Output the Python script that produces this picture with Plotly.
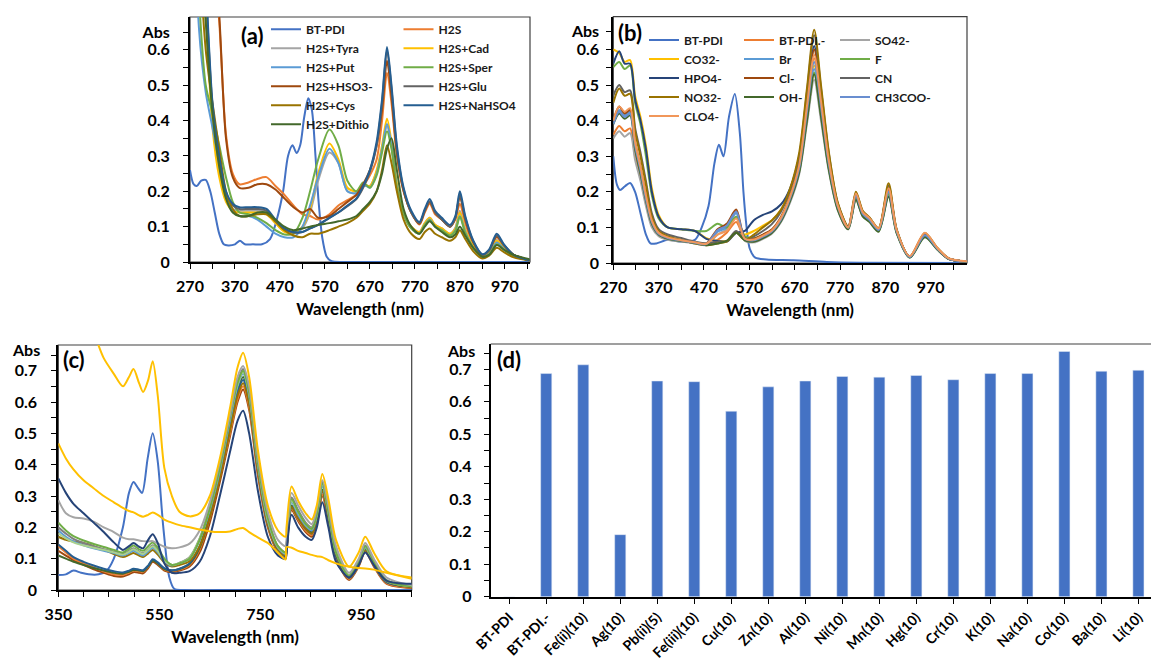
import plotly.graph_objects as go

# ---------------- Panel (a) ----------------
WL_A = [270, 290, 305, 320, 335, 350, 365, 380, 400, 420, 440, 460, 480, 500, 520, 537, 555, 580, 600, 620,
        640, 655, 670, 685, 697, 708, 718, 730, 745, 762, 780, 792, 803, 815, 830, 848, 860, 870, 882, 900,
        920, 935, 952, 968, 990, 1025]
WL_A_PDI = [270, 278, 285, 295, 305, 315, 325, 335, 345, 355, 370, 381, 392, 410, 430, 448, 463, 477, 488, 498,
            507, 515, 524, 533, 541, 549, 556, 564, 574, 585, 620, 800, 1025]
A_BTPDI = [0.26, 0.22, 0.215, 0.23, 0.232, 0.2, 0.14, 0.08, 0.05, 0.047, 0.05, 0.06, 0.05, 0.05, 0.05, 0.065,
           0.12, 0.2, 0.3, 0.33, 0.308, 0.33, 0.41, 0.463, 0.43, 0.3, 0.17, 0.07, 0.015, 0.002, 0.0, 0.0, 0.0]
A_H2S = [1.5, 1.3, 1.1, 0.9, 0.68, 0.36, 0.25, 0.22, 0.225, 0.235, 0.24, 0.215, 0.19, 0.16, 0.135, 0.13, 0.12,
         0.135, 0.16, 0.175, 0.19, 0.215, 0.245, 0.29, 0.4, 0.535, 0.45, 0.3, 0.2, 0.14, 0.106, 0.14, 0.165,
         0.135, 0.12, 0.1, 0.12, 0.165, 0.11, 0.05, 0.02, 0.03, 0.07, 0.045, 0.02, 0.005]
A_TYRA = [1.5, 1.1, 0.72, 0.4, 0.26, 0.18, 0.15, 0.145, 0.145, 0.145, 0.14, 0.11, 0.088, 0.082, 0.095, 0.14,
          0.23, 0.31, 0.28, 0.2, 0.195, 0.215, 0.215, 0.255, 0.32, 0.385, 0.33, 0.215, 0.14, 0.1, 0.085, 0.11,
          0.125, 0.105, 0.095, 0.08, 0.097, 0.145, 0.092, 0.045, 0.016, 0.025, 0.062, 0.04, 0.018, 0.005]
A_CAD = [1.5, 1.1, 0.72, 0.38, 0.24, 0.17, 0.145, 0.14, 0.14, 0.14, 0.135, 0.11, 0.085, 0.08, 0.1, 0.15, 0.25,
         0.335, 0.29, 0.21, 0.2, 0.22, 0.215, 0.26, 0.33, 0.405, 0.34, 0.22, 0.14, 0.1, 0.085, 0.11, 0.125,
         0.105, 0.095, 0.08, 0.095, 0.14, 0.09, 0.045, 0.016, 0.025, 0.06, 0.04, 0.018, 0.005]
A_PUT = [1.4, 0.66, 0.48, 0.38, 0.28, 0.19, 0.145, 0.13, 0.13, 0.12, 0.1, 0.08, 0.07, 0.07, 0.1, 0.16, 0.24,
         0.32, 0.28, 0.2, 0.195, 0.22, 0.21, 0.25, 0.32, 0.39, 0.33, 0.21, 0.135, 0.095, 0.08, 0.105, 0.12,
         0.1, 0.09, 0.075, 0.09, 0.13, 0.085, 0.04, 0.015, 0.023, 0.055, 0.037, 0.017, 0.005]
A_SPER = [1.4, 0.75, 0.5, 0.42, 0.33, 0.24, 0.17, 0.14, 0.135, 0.125, 0.11, 0.09, 0.078, 0.08, 0.125, 0.2,
          0.29, 0.375, 0.33, 0.23, 0.2, 0.225, 0.21, 0.245, 0.31, 0.37, 0.32, 0.21, 0.135, 0.095, 0.08, 0.105,
          0.118, 0.1, 0.09, 0.075, 0.088, 0.128, 0.082, 0.04, 0.015, 0.022, 0.05, 0.035, 0.016, 0.005]
A_HSO3 = [1.5, 1.35, 1.15, 0.95, 0.7, 0.35, 0.24, 0.21, 0.21, 0.22, 0.22, 0.205, 0.18, 0.155, 0.14, 0.15, 0.125,
          0.13, 0.15, 0.17, 0.19, 0.22, 0.26, 0.33, 0.43, 0.57, 0.47, 0.31, 0.2, 0.14, 0.108, 0.145, 0.17, 0.14,
          0.12, 0.1, 0.125, 0.185, 0.12, 0.055, 0.02, 0.032, 0.072, 0.047, 0.02, 0.005]
A_GLU = [1.5, 1.2, 0.78, 0.44, 0.29, 0.19, 0.16, 0.15, 0.15, 0.15, 0.145, 0.115, 0.092, 0.083, 0.085, 0.095,
         0.105, 0.125, 0.14, 0.158, 0.178, 0.21, 0.255, 0.33, 0.45, 0.6, 0.49, 0.32, 0.205, 0.14, 0.11, 0.145,
         0.172, 0.14, 0.12, 0.1, 0.125, 0.19, 0.125, 0.058, 0.02, 0.033, 0.075, 0.048, 0.02, 0.005]
A_CYS = [1.5, 0.9, 0.6, 0.45, 0.32, 0.2, 0.15, 0.13, 0.13, 0.135, 0.135, 0.115, 0.09, 0.075, 0.07, 0.08, 0.08,
         0.09, 0.1, 0.11, 0.125, 0.145, 0.165, 0.2, 0.26, 0.33, 0.28, 0.2, 0.12, 0.08, 0.065, 0.085, 0.095,
         0.08, 0.07, 0.06, 0.07, 0.09, 0.065, 0.03, 0.01, 0.018, 0.04, 0.028, 0.013, 0.004]
A_NAHSO4 = [1.5, 1.2, 0.8, 0.45, 0.3, 0.2, 0.165, 0.155, 0.155, 0.155, 0.15, 0.12, 0.095, 0.085, 0.085, 0.095,
            0.105, 0.125, 0.14, 0.16, 0.18, 0.215, 0.26, 0.34, 0.46, 0.608, 0.5, 0.33, 0.21, 0.145, 0.113, 0.15,
            0.178, 0.145, 0.125, 0.105, 0.13, 0.2, 0.13, 0.06, 0.022, 0.035, 0.08, 0.05, 0.02, 0.005]
A_DITHIO = [1.5, 1.0, 0.68, 0.42, 0.27, 0.18, 0.14, 0.13, 0.13, 0.14, 0.14, 0.12, 0.1, 0.09, 0.095, 0.1, 0.105,
            0.11, 0.115, 0.12, 0.13, 0.15, 0.17, 0.2, 0.25, 0.32, 0.35, 0.26, 0.15, 0.1, 0.08, 0.1, 0.115, 0.1,
            0.085, 0.07, 0.078, 0.1, 0.075, 0.04, 0.015, 0.02, 0.048, 0.035, 0.02, 0.008]

# ---------------- Panel (b) ----------------
WL_B = [270, 283, 295, 307, 318, 330, 342, 355, 370, 390, 420, 450, 475, 500, 520, 541, 560, 580, 600, 620,
        640, 660, 680, 697, 713, 728, 745, 765, 788, 805, 820, 835, 855, 877, 895, 924, 957, 985, 1010, 1050]
WL_B_PDI = [270, 278, 285, 295, 307, 318, 330, 342, 352, 365, 390, 420, 450, 465, 480, 493, 503, 513, 525, 538,
            549, 557, 564, 571, 583, 608, 667, 741, 814, 1050]
B_BTPDI = [0.3, 0.22, 0.205, 0.215, 0.225, 0.2, 0.14, 0.08, 0.055, 0.055, 0.065, 0.06, 0.065, 0.1, 0.16, 0.28,
           0.332, 0.3, 0.41, 0.475, 0.365, 0.2, 0.1, 0.04, 0.015, 0.01, 0.008, 0.003, 0.001, 0.0]
B_BTPDI_RED = [0.36, 0.385, 0.37, 0.378, 0.3, 0.24, 0.17, 0.11, 0.08, 0.068, 0.062, 0.056, 0.052, 0.065, 0.085,
               0.115, 0.068, 0.065, 0.075, 0.09, 0.125, 0.185, 0.27, 0.43, 0.575, 0.445, 0.285, 0.16, 0.1, 0.19,
               0.14, 0.123, 0.095, 0.205, 0.09, 0.018, 0.08, 0.04, 0.012, 0.004]
B_SO4 = [0.35, 0.37, 0.355, 0.365, 0.29, 0.23, 0.16, 0.1, 0.075, 0.065, 0.06, 0.055, 0.05, 0.08, 0.095, 0.13,
         0.062, 0.058, 0.068, 0.083, 0.115, 0.17, 0.25, 0.39, 0.515, 0.4, 0.26, 0.148, 0.095, 0.178, 0.132,
         0.117, 0.09, 0.19, 0.085, 0.017, 0.075, 0.038, 0.011, 0.004]
B_CO3 = [0.6, 0.59, 0.565, 0.57, 0.47, 0.41, 0.33, 0.21, 0.135, 0.1, 0.095, 0.09, 0.07, 0.062, 0.062, 0.085,
         0.08, 0.09, 0.105, 0.12, 0.15, 0.2, 0.28, 0.43, 0.555, 0.435, 0.28, 0.158, 0.1, 0.188, 0.138, 0.122,
         0.094, 0.2, 0.088, 0.018, 0.078, 0.04, 0.012, 0.004]
B_BR = [0.4, 0.43, 0.415, 0.425, 0.33, 0.26, 0.18, 0.115, 0.083, 0.07, 0.063, 0.057, 0.053, 0.088, 0.1, 0.14,
        0.066, 0.062, 0.072, 0.087, 0.12, 0.178, 0.262, 0.41, 0.545, 0.425, 0.272, 0.154, 0.098, 0.185, 0.136,
        0.12, 0.092, 0.198, 0.087, 0.017, 0.077, 0.039, 0.012, 0.004]
B_F = [0.55, 0.565, 0.545, 0.555, 0.45, 0.39, 0.3, 0.19, 0.125, 0.1, 0.095, 0.09, 0.09, 0.11, 0.1, 0.13, 0.075,
       0.07, 0.078, 0.09, 0.125, 0.18, 0.26, 0.405, 0.535, 0.418, 0.268, 0.152, 0.097, 0.182, 0.134, 0.118,
       0.09, 0.193, 0.085, 0.016, 0.075, 0.038, 0.012, 0.004]
B_HPO4 = [0.56, 0.595, 0.56, 0.56, 0.46, 0.4, 0.32, 0.2, 0.13, 0.1, 0.095, 0.09, 0.068, 0.062, 0.06, 0.085,
          0.09, 0.12, 0.135, 0.145, 0.165, 0.21, 0.3, 0.46, 0.61, 0.47, 0.3, 0.165, 0.1, 0.19, 0.14, 0.123,
          0.094, 0.21, 0.09, 0.017, 0.078, 0.04, 0.012, 0.004]
B_CL = [0.4, 0.44, 0.42, 0.43, 0.34, 0.27, 0.19, 0.12, 0.085, 0.072, 0.064, 0.058, 0.055, 0.095, 0.11, 0.15,
        0.07, 0.068, 0.08, 0.095, 0.13, 0.19, 0.28, 0.45, 0.6, 0.465, 0.295, 0.163, 0.1, 0.192, 0.142, 0.125,
        0.096, 0.212, 0.091, 0.018, 0.08, 0.04, 0.012, 0.004]
B_CN = [0.47, 0.5, 0.48, 0.485, 0.38, 0.31, 0.23, 0.14, 0.095, 0.08, 0.07, 0.06, 0.055, 0.06, 0.062, 0.09,
        0.066, 0.075, 0.09, 0.11, 0.145, 0.205, 0.3, 0.48, 0.64, 0.49, 0.31, 0.168, 0.102, 0.196, 0.145, 0.127,
        0.097, 0.218, 0.093, 0.018, 0.082, 0.041, 0.012, 0.004]
B_NO3 = [0.45, 0.49, 0.47, 0.475, 0.37, 0.3, 0.22, 0.13, 0.09, 0.075, 0.065, 0.055, 0.05, 0.055, 0.06, 0.085,
         0.065, 0.08, 0.1, 0.12, 0.15, 0.21, 0.31, 0.49, 0.655, 0.5, 0.315, 0.17, 0.103, 0.2, 0.147, 0.128,
         0.098, 0.224, 0.094, 0.018, 0.084, 0.042, 0.013, 0.004]
B_OH = [0.39, 0.42, 0.405, 0.415, 0.32, 0.25, 0.175, 0.11, 0.08, 0.068, 0.062, 0.056, 0.05, 0.055, 0.062, 0.085,
        0.064, 0.06, 0.07, 0.085, 0.118, 0.175, 0.255, 0.4, 0.53, 0.412, 0.265, 0.15, 0.095, 0.178, 0.131,
        0.115, 0.088, 0.186, 0.083, 0.015, 0.072, 0.037, 0.011, 0.004]
B_CH3COO = [0.39, 0.425, 0.41, 0.42, 0.33, 0.26, 0.18, 0.115, 0.082, 0.07, 0.063, 0.057, 0.053, 0.092, 0.105,
            0.145, 0.068, 0.064, 0.074, 0.089, 0.123, 0.182, 0.267, 0.425, 0.565, 0.44, 0.28, 0.158, 0.099,
            0.188, 0.138, 0.121, 0.093, 0.2, 0.088, 0.017, 0.078, 0.039, 0.012, 0.004]
B_CLO4 = [0.4, 0.44, 0.425, 0.435, 0.34, 0.27, 0.19, 0.12, 0.085, 0.072, 0.064, 0.058, 0.054, 0.08, 0.09,
          0.125, 0.068, 0.066, 0.077, 0.092, 0.127, 0.187, 0.275, 0.44, 0.585, 0.455, 0.29, 0.162, 0.1, 0.195,
          0.143, 0.126, 0.097, 0.21, 0.092, 0.019, 0.085, 0.042, 0.013, 0.005]

# ---------------- Panel (c) ----------------
WL_C = [350, 365, 380, 400, 420, 440, 460, 478, 490, 499, 510, 518, 528, 537, 547, 560, 575, 590, 610, 630,
        650, 670, 690, 705, 716, 728, 745, 765, 785, 800, 802, 812, 825, 840, 852, 862, 873, 885, 900, 926,
        945, 958, 975, 1000, 1050]
WL_C_PDI = [350, 365, 380, 395, 410, 430, 445, 460, 478, 490, 499, 508, 516, 527, 537, 547, 558, 570, 580, 600,
            700, 800, 900, 1050]
C_BTPDI = [0.048, 0.05, 0.062, 0.055, 0.05, 0.05, 0.06, 0.1, 0.2, 0.31, 0.345, 0.325, 0.31, 0.42, 0.5, 0.41,
           0.2, 0.04, 0.003, 0.0, 0.0, 0.0, 0.0, 0.0]
C_YELLOW_HI = [1.0, 0.97, 0.93, 0.88, 0.82, 0.74, 0.69, 0.65, 0.68, 0.705, 0.66, 0.632, 0.67, 0.73, 0.62, 0.39,
               0.3, 0.25, 0.235, 0.245, 0.3, 0.42, 0.58, 0.71, 0.757, 0.68, 0.45, 0.27, 0.19, 0.17, 0.2, 0.33,
               0.285, 0.245, 0.225, 0.27, 0.37, 0.29, 0.16, 0.075, 0.12, 0.17, 0.12, 0.06, 0.04]
C_YELLOW_LO = [0.468, 0.42, 0.385, 0.35, 0.325, 0.3, 0.28, 0.262, 0.252, 0.248, 0.238, 0.234, 0.24, 0.247, 0.24,
               0.225, 0.215, 0.207, 0.2, 0.193, 0.187, 0.185, 0.187, 0.195, 0.198, 0.185, 0.168, 0.15, 0.12,
               0.097, 0.137, 0.135, 0.125, 0.118, 0.112, 0.108, 0.105, 0.095, 0.085, 0.074, 0.07, 0.069, 0.065,
               0.055, 0.036]
C_NAVY = [0.356, 0.31, 0.275, 0.245, 0.215, 0.185, 0.152, 0.128, 0.14, 0.15, 0.138, 0.133, 0.16, 0.178, 0.15,
          0.085, 0.055, 0.055, 0.06, 0.09, 0.17, 0.3, 0.44, 0.54, 0.572, 0.5, 0.32, 0.17, 0.11, 0.1, 0.12, 0.24,
          0.2, 0.17, 0.16, 0.2, 0.28, 0.2, 0.09, 0.04, 0.08, 0.12, 0.08, 0.03, 0.02]
C_GRAY_HI = [0.287, 0.245, 0.232, 0.228, 0.218, 0.2, 0.185, 0.167, 0.162, 0.162, 0.158, 0.156, 0.155, 0.156,
             0.148, 0.138, 0.133, 0.136, 0.148, 0.19, 0.28, 0.41, 0.56, 0.68, 0.715, 0.65, 0.43, 0.25, 0.16, 0.14,
             0.16, 0.31, 0.27, 0.23, 0.21, 0.26, 0.35, 0.27, 0.14, 0.055, 0.1, 0.15, 0.1, 0.04, 0.015]
C_GREEN = [0.215, 0.19, 0.172, 0.158, 0.147, 0.137, 0.128, 0.12, 0.133, 0.142, 0.13, 0.125, 0.14, 0.152, 0.135,
           0.1, 0.08, 0.085, 0.1, 0.16, 0.26, 0.39, 0.55, 0.66, 0.7, 0.63, 0.41, 0.23, 0.14, 0.12, 0.14, 0.29,
           0.25, 0.21, 0.195, 0.24, 0.34, 0.25, 0.12, 0.045, 0.09, 0.14, 0.09, 0.03, 0.012]
C_LBLUE = [0.19, 0.17, 0.155, 0.143, 0.133, 0.125, 0.118, 0.11, 0.118, 0.125, 0.115, 0.11, 0.123, 0.135, 0.12,
           0.092, 0.078, 0.085, 0.1, 0.16, 0.255, 0.38, 0.54, 0.65, 0.69, 0.62, 0.4, 0.22, 0.135, 0.115, 0.135,
           0.28, 0.24, 0.205, 0.19, 0.235, 0.33, 0.245, 0.12, 0.045, 0.088, 0.135, 0.088, 0.03, 0.012]
C_GRAY = [0.2, 0.18, 0.163, 0.15, 0.14, 0.13, 0.122, 0.115, 0.125, 0.133, 0.122, 0.117, 0.13, 0.143, 0.127,
          0.097, 0.08, 0.087, 0.105, 0.165, 0.265, 0.395, 0.555, 0.665, 0.705, 0.635, 0.415, 0.23, 0.14, 0.12,
          0.14, 0.295, 0.255, 0.215, 0.2, 0.245, 0.345, 0.255, 0.125, 0.048, 0.092, 0.142, 0.092, 0.032, 0.012]
C_OLIVE = [0.17, 0.16, 0.155, 0.15, 0.14, 0.128, 0.115, 0.105, 0.112, 0.118, 0.11, 0.105, 0.117, 0.128, 0.113,
           0.088, 0.075, 0.08, 0.092, 0.14, 0.235, 0.36, 0.51, 0.62, 0.66, 0.595, 0.385, 0.21, 0.13, 0.11, 0.13,
           0.265, 0.23, 0.195, 0.18, 0.225, 0.315, 0.235, 0.115, 0.04, 0.083, 0.128, 0.083, 0.028, 0.01]
C_LGREEN = [0.18, 0.165, 0.152, 0.142, 0.135, 0.128, 0.12, 0.113, 0.122, 0.13, 0.12, 0.115, 0.128, 0.14, 0.124,
            0.095, 0.08, 0.086, 0.103, 0.163, 0.26, 0.39, 0.55, 0.655, 0.695, 0.628, 0.41, 0.225, 0.138, 0.118,
            0.138, 0.285, 0.248, 0.21, 0.195, 0.24, 0.338, 0.25, 0.122, 0.046, 0.09, 0.138, 0.09, 0.03, 0.012]
C_ORANGE = [0.14, 0.12, 0.1, 0.085, 0.072, 0.06, 0.05, 0.048, 0.055, 0.062, 0.06, 0.058, 0.075, 0.095, 0.085,
            0.065, 0.06, 0.065, 0.08, 0.13, 0.23, 0.36, 0.5, 0.61, 0.65, 0.585, 0.38, 0.205, 0.125, 0.105, 0.125,
            0.26, 0.225, 0.19, 0.175, 0.215, 0.305, 0.225, 0.105, 0.035, 0.078, 0.125, 0.078, 0.022, 0.008]
C_BROWN = [0.125, 0.11, 0.095, 0.08, 0.066, 0.055, 0.045, 0.043, 0.05, 0.057, 0.055, 0.053, 0.07, 0.09, 0.08,
           0.062, 0.057, 0.062, 0.075, 0.12, 0.215, 0.345, 0.49, 0.6, 0.64, 0.575, 0.37, 0.2, 0.12, 0.1, 0.12,
           0.255, 0.22, 0.185, 0.17, 0.21, 0.3, 0.22, 0.1, 0.032, 0.075, 0.122, 0.075, 0.02, 0.006]
C_DBLUE = [0.145, 0.125, 0.105, 0.09, 0.078, 0.068, 0.06, 0.056, 0.062, 0.068, 0.065, 0.063, 0.078, 0.098, 0.088,
           0.07, 0.063, 0.068, 0.085, 0.14, 0.24, 0.37, 0.52, 0.63, 0.67, 0.6, 0.39, 0.21, 0.128, 0.108, 0.128,
           0.265, 0.23, 0.195, 0.18, 0.22, 0.315, 0.232, 0.11, 0.038, 0.08, 0.128, 0.08, 0.025, 0.012]
C_DGREEN = [0.11, 0.1, 0.09, 0.08, 0.07, 0.062, 0.055, 0.052, 0.058, 0.064, 0.062, 0.06, 0.076, 0.094, 0.085,
            0.067, 0.062, 0.067, 0.083, 0.135, 0.235, 0.365, 0.515, 0.635, 0.68, 0.61, 0.395, 0.215, 0.13, 0.11,
            0.13, 0.27, 0.235, 0.2, 0.185, 0.225, 0.32, 0.237, 0.112, 0.04, 0.082, 0.13, 0.082, 0.026, 0.01]

# ---------------- Panel (d) ----------------
D_CATEGORIES = ["BT-PDI", "BT-PDI.-", "Fe(ii)(10)", "Ag(10)", "Pb(ii)(5)", "Fe(iii)(10)", "Cu(10)", "Zn(10)",
                "Al(10)", "Ni(10)", "Mn(10)", "Hg(10)", "Cr(10)", "K(10)", "Na(10)", "Co(10)", "Ba(10)", "Li(10)"]
D_VALUES = [0.0, 0.687, 0.714, 0.191, 0.664, 0.662, 0.571, 0.646, 0.664, 0.678, 0.676, 0.681, 0.668, 0.687,
            0.687, 0.755, 0.694, 0.697]

# ---------------- Tick labels ----------------
AB_Y_VALS = [0, 0.1, 0.2, 0.3, 0.4, 0.5, 0.6, 0.65]
AB_Y_TEXT = ["0", "0.1", "0.2", "0.3", "0.4", "0.5", "0.6", "Abs"]
CD_Y_VALS = [0, 0.1, 0.2, 0.3, 0.4, 0.5, 0.6, 0.7]
CD_Y_TEXT = ["0", "0.1", "0.2", "0.3", "0.4", "0.5", "0.6", "0.7"]
CD_Y_UNIT = "Abs"
AB_X_VALS = [270, 370, 470, 570, 670, 770, 870, 970]
AB_X_TEXT = ["270", "370", "470", "570", "670", "770", "870", "970"]
C_X_VALS = [350, 550, 750, 950]
C_X_TEXT = ["350", "550", "750", "950"]
X_TITLE = "Wavelength (nm)"

FONT = "Lato"
fig = go.Figure()


def add_line(x, y, name, color, xa, ya, legend=None):
    fig.add_trace(go.Scatter(
        x=x, y=y, name=name, mode="lines", xaxis=xa, yaxis=ya,
        line=dict(color=color, width=2, shape="spline", smoothing=0.8),
        showlegend=legend is not None, legend=legend if legend else "legend",
        hoverinfo="skip"))


# (a) legend columns: legend (left), legend2 (right)
add_line(WL_A_PDI, A_BTPDI, "BT-PDI", "#4472C4", "x", "y", "legend")
add_line(WL_A, A_H2S, "H2S", "#ED7D31", "x", "y", "legend2")
add_line(WL_A, A_TYRA, "H2S+Tyra", "#A5A5A5", "x", "y", "legend")
add_line(WL_A, A_CAD, "H2S+Cad", "#FFC000", "x", "y", "legend2")
add_line(WL_A, A_PUT, "H2S+Put", "#5B9BD5", "x", "y", "legend")
add_line(WL_A, A_SPER, "H2S+Sper", "#70AD47", "x", "y", "legend2")
add_line(WL_A, A_HSO3, "H2S+HSO3-", "#9E480E", "x", "y", "legend")
add_line(WL_A, A_GLU, "H2S+Glu", "#636363", "x", "y", "legend2")
add_line(WL_A, A_CYS, "H2S+Cys", "#997300", "x", "y", "legend")
add_line(WL_A, A_NAHSO4, "H2S+NaHSO4", "#255E91", "x", "y", "legend2")
add_line(WL_A, A_DITHIO, "H2S+Dithio", "#43682B", "x", "y", "legend")

# (b) legend columns: legend3, legend4, legend5
add_line(WL_B_PDI, B_BTPDI, "BT-PDI", "#4472C4", "x2", "y2", "legend3")
add_line(WL_B, B_BTPDI_RED, "BT-PDI.-", "#ED7D31", "x2", "y2", "legend4")
add_line(WL_B, B_SO4, "SO42-", "#A5A5A5", "x2", "y2", "legend5")
add_line(WL_B, B_CO3, "CO32-", "#FFC000", "x2", "y2", "legend3")
add_line(WL_B, B_BR, "Br", "#5B9BD5", "x2", "y2", "legend4")
add_line(WL_B, B_F, "F", "#70AD47", "x2", "y2", "legend5")
add_line(WL_B, B_HPO4, "HPO4-", "#264478", "x2", "y2", "legend3")
add_line(WL_B, B_CL, "Cl-", "#9E480E", "x2", "y2", "legend4")
add_line(WL_B, B_CN, "CN", "#636363", "x2", "y2", "legend5")
add_line(WL_B, B_NO3, "NO32-", "#997300", "x2", "y2", "legend3")
add_line(WL_B, B_OH, "OH-", "#43682B", "x2", "y2", "legend4")
add_line(WL_B, B_CH3COO, "CH3COO-", "#698ED0", "x2", "y2", "legend5")
add_line(WL_B, B_CLO4, "CLO4-", "#F1975A", "x2", "y2", "legend3")

# (c)
add_line(WL_C_PDI, C_BTPDI, "BT-PDI", "#4472C4", "x3", "y3")
add_line(WL_C, C_BROWN, "c-brown", "#9E480E", "x3", "y3")
add_line(WL_C, C_ORANGE, "c-orange", "#ED7D31", "x3", "y3")
add_line(WL_C, C_DGREEN, "c-dgreen", "#43682B", "x3", "y3")
add_line(WL_C, C_DBLUE, "c-dblue", "#255E91", "x3", "y3")
add_line(WL_C, C_OLIVE, "c-olive", "#997300", "x3", "y3")
add_line(WL_C, C_LBLUE, "c-lblue", "#5B9BD5", "x3", "y3")
add_line(WL_C, C_GRAY, "c-gray", "#7F7F7F", "x3", "y3")
add_line(WL_C, C_LGREEN, "c-lgreen", "#A9D18E", "x3", "y3")
add_line(WL_C, C_GREEN, "c-green", "#70AD47", "x3", "y3")
add_line(WL_C, C_GRAY_HI, "c-gray2", "#A5A5A5", "x3", "y3")
add_line(WL_C, C_NAVY, "c-navy", "#264478", "x3", "y3")
add_line(WL_C, C_YELLOW_LO, "c-yellow2", "#FFC000", "x3", "y3")
add_line(WL_C, C_YELLOW_HI, "c-yellow", "#FFC000", "x3", "y3")

# (d)
fig.add_trace(go.Bar(x=D_CATEGORIES, y=D_VALUES, xaxis="x4", yaxis="y4", marker=dict(color="#4472C4"),
                     showlegend=False, hoverinfo="skip"))

W, H = 1151, 662
TICKFONT = dict(family=FONT, size=16, color="black", weight="bold")


def ax(domain, rng, vals, text, standoff, anchor, minor_dtick, minor_tick0, title=None, title_standoff=None):
    d = dict(domain=domain, range=rng, tickmode="array", tickvals=vals, ticktext=text,
             ticks="outside", ticklen=5, tickwidth=1.3, tickcolor="black",
             showline=True, linewidth=2, linecolor="black", showgrid=False, zeroline=False,
             tickfont=TICKFONT, ticklabelstandoff=standoff, anchor=anchor, automargin=False,
             minor=dict(ticks="outside", ticklen=5, tickwidth=1.3, tickcolor="black",
                        dtick=minor_dtick, tick0=minor_tick0, showgrid=False))
    if title:
        d["title"] = dict(text=title, font=dict(family=FONT, size=17, color="black", weight="bold"),
                          standoff=title_standoff)
    return d


def py(p):  # pixel from top -> paper y
    return 1 - p / H


def px_(x):
    return x / W


layout = dict(
    width=W, height=H, margin=dict(l=0, r=0, t=0, b=0),
    paper_bgcolor="white", plot_bgcolor="white",
    font=dict(family=FONT, color="black"),
    bargap=0.7,
    xaxis=ax([px_(190), px_(530)], [270, 1026], AB_X_VALS, AB_X_TEXT, 4, "y", 50, 270, X_TITLE, 9),
    yaxis=ax([py(262), py(17)], [0, 0.693], AB_Y_VALS, AB_Y_TEXT, 10, "x", 0.05, 0),
    xaxis2=ax([px_(613.3), px_(967)], [270, 1050], AB_X_VALS, AB_X_TEXT, 4, "y2", 50, 270, X_TITLE, 9),
    yaxis2=ax([py(263), py(16.7)], [0, 0.692], AB_Y_VALS, AB_Y_TEXT, 4, "x2", 0.05, 0),
    xaxis3=ax([px_(58.3), px_(411.7)], [350, 1050], C_X_VALS, C_X_TEXT, 4, "y3", 50, 350, X_TITLE, 9),
    yaxis3=ax([py(590), py(345)], [0, 0.782], CD_Y_VALS, CD_Y_TEXT, 11, "x3", 0.05, 0),
    yaxis4=ax([py(596.7), py(344)], [0, 0.778], CD_Y_VALS, CD_Y_TEXT, 9, "x4", 0.05, 0),
)
layout["xaxis4"] = dict(domain=[px_(490.7), 1.0], range=[-0.5, 17.34], type="category",
                        ticks="outside", ticklen=5, tickwidth=1.3, tickcolor="black",
                        showline=True, linewidth=2, linecolor="black", showgrid=False, zeroline=False,
                        tickangle=-45, tickfont=dict(family=FONT, size=14, color="black", weight="bold"),
                        anchor="y4", automargin=False)

LEG_FONT = dict(family=FONT, size=12, color="#1a1a1a", weight="bold")


def leg(xpx, ytop):
    return dict(x=px_(xpx), y=py(ytop), xanchor="left", yanchor="top", orientation="v",
                bgcolor="rgba(0,0,0,0)", borderwidth=0, font=LEG_FONT, itemwidth=30,
                tracegroupgap=0)


layout["legend"] = leg(266, 14.8)
layout["legend2"] = leg(398.5, 14.8)
layout["legend3"] = leg(644, 25.5)
layout["legend4"] = leg(739, 25.5)
layout["legend5"] = leg(835, 25.5)

frame = dict(color="#404040", width=1.2)
layout["shapes"] = [
    dict(type="rect", xref="x domain", yref="y domain", x0=0, x1=1, y0=0, y1=1, line=frame, layer="below"),
    dict(type="rect", xref="x2 domain", yref="y2 domain", x0=0, x1=1, y0=0, y1=1, line=frame, layer="below"),
    dict(type="rect", xref="x3 domain", yref="y3 domain", x0=0, x1=1, y0=0, y1=1, line=frame, layer="below"),
    dict(type="line", xref="x4 domain", yref="y4 domain", x0=0, x1=1, y0=1, y1=1, line=frame, layer="below"),
]

PANEL_FONT = dict(family=FONT, size=22, color="black", weight="bold")


def panel_label(text, xp, yp):
    return dict(text=text, x=px_(xp), y=py(yp), xref="paper", yref="paper", showarrow=False,
                xanchor="center", yanchor="middle", font=PANEL_FONT)


def unit_label(xp, yp):
    return dict(text=CD_Y_UNIT, x=px_(xp), y=py(yp), xref="paper", yref="paper", showarrow=False,
                xanchor="right", yanchor="middle", font=TICKFONT)


layout["annotations"] = [
    panel_label("(a)", 252, 36),
    panel_label("(b)", 630, 33),
    panel_label("(c)", 74.5, 359),
    panel_label("(d)", 509, 359),
    unit_label(42, 349),
    unit_label(477, 350),
]

fig.update_layout(**layout)
fig.write_html("out.html")
